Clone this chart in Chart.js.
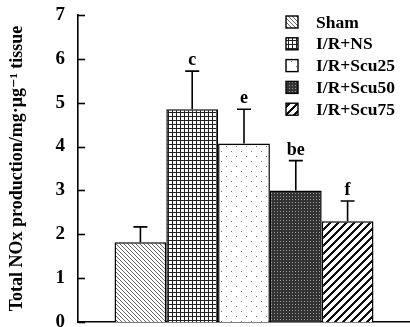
<!DOCTYPE html>
<html>
<head>
<meta charset="utf-8">
<script src="https://cdn.jsdelivr.net/npm/chart.js@4"></script>
<style>
  html, body { margin: 0; padding: 0; background: #fff; }
  #wrap { width: 410px; height: 327px; }
</style>
</head>
<body>
<div id="wrap"><canvas id="chart" width="410" height="327"></canvas></div>
<script>
// Data
const groups = ["Sham", "I/R+NS", "I/R+Scu25", "I/R+Scu50", "I/R+Scu75"];
const means = [1.82, 4.85, 4.07, 3.0, 2.3];
const errors = [0.35, 0.87, 0.78, 0.68, 0.46];
const letters = ["", "c", "e", "be", "f"];
const yMin = 0;
const yMax = 7;
const yStep = 1;

const serif = '"Liberation Serif", "DejaVu Serif", serif';

// Fill patterns
function makePattern(size, draw) {
  const c = document.createElement("canvas");
  c.width = size;
  c.height = size;
  const g = c.getContext("2d");
  g.fillStyle = "#fff";
  g.fillRect(0, 0, size, size);
  draw(g, size);
  return g.createPattern(c, "repeat");
}

const patterns = [
  // back diagonal fine lines
  makePattern(4, (g, s) => {
    g.fillStyle = "#666";
    for (let i = 0; i < s; i++) g.fillRect(i, i, 1, 1);
  }),
  // grid
  makePattern(4, (g, s) => {
    g.fillStyle = "#222";
    g.fillRect(0, 0, s, 1);
    g.fillRect(0, 0, 1, s);
  }),
  // sparse dots
  makePattern(10, (g) => {
    g.fillStyle = "#777";
    g.fillRect(1, 1, 1, 1);
    g.fillRect(6, 6, 1, 1);
  }),
  // dense dark dots
  makePattern(3, (g) => {
    g.fillStyle = "#333";
    g.fillRect(0, 0, 3, 3);
    g.fillStyle = "#999";
    g.fillRect(1, 1, 1, 1);
  }),
  // thick forward stripes
  makePattern(8, (g, s) => {
    g.fillStyle = "#111";
    for (let i = 0; i < s; i++) {
      for (let w = 0; w < 3; w++) {
        g.fillRect((s - 1 - i + w) % s, i, 1, 1);
      }
    }
  }),
];

// Error bars, letters, inner ticks and legend
const extras = {
  id: "extras",
  afterDatasetsDraw(chart) {
    const ctx = chart.ctx;
    const y = chart.scales.y;
    const area = chart.chartArea;
    ctx.save();
    ctx.strokeStyle = "#000";
    ctx.fillStyle = "#000";
    ctx.lineWidth = 1.6;

    chart.data.datasets.forEach((ds, i) => {
      const bar = chart.getDatasetMeta(i).data[0];
      const top = y.getPixelForValue(means[i] + errors[i]);
      ctx.beginPath();
      ctx.moveTo(bar.x, bar.y);
      ctx.lineTo(bar.x, top);
      ctx.moveTo(bar.x - 7, top);
      ctx.lineTo(bar.x + 7, top);
      ctx.stroke();
      if (letters[i]) {
        ctx.font = "bold 18px " + serif;
        ctx.textAlign = "center";
        ctx.textBaseline = "alphabetic";
        ctx.fillText(letters[i], bar.x, top - 6);
      }
    });

    // tick marks pointing into the plot
    for (let v = yMin; v <= yMax; v += yStep) {
      const py = Math.round(y.getPixelForValue(v)) + 0.5;
      ctx.beginPath();
      ctx.moveTo(area.left, py);
      ctx.lineTo(area.left + 7, py);
      ctx.stroke();
    }

    // legend
    ctx.font = "bold 17.5px " + serif;
    ctx.textAlign = "left";
    ctx.textBaseline = "middle";
    groups.forEach((name, i) => {
      const cy = 22 + i * 21.8;
      ctx.fillStyle = patterns[i];
      ctx.fillRect(286, cy - 6, 12, 12);
      ctx.lineWidth = 1.4;
      ctx.strokeRect(286, cy - 6, 12, 12);
      ctx.fillStyle = "#000";
      ctx.fillText(name, 316, cy + 1);
    });
    ctx.restore();
  },
};

const ctx = document.getElementById("chart").getContext("2d");
new Chart(ctx, {
  type: "bar",
  data: {
    labels: [""],
    datasets: groups.map((name, i) => ({
      label: name,
      data: [means[i]],
      backgroundColor: patterns[i],
      borderColor: "#000",
      borderWidth: 1.5,
      categoryPercentage: 0.78,
      barPercentage: 1,
    })),
  },
  options: {
    responsive: false,
    animation: false,
    layout: { padding: { top: 15, bottom: 5, left: 0, right: 0 } },
    plugins: {
      legend: { display: false },
      tooltip: { enabled: false },
    },
    scales: {
      x: {
        grid: { display: false },
        ticks: { display: false },
        border: { display: true, color: "#000", width: 1.6 },
        afterFit(scale) {
          scale.height = 0;
        },
      },
      y: {
        min: yMin,
        max: yMax,
        ticks: {
          stepSize: yStep,
          color: "#000",
          padding: 5,
          font: { family: serif, size: 19, weight: "bold" },
        },
        grid: { display: false },
        border: { display: true, color: "#000", width: 1.6 },
        title: {
          display: true,
          text: "Total NOx production/mg·μg⁻¹ tissue",
          color: "#000",
          font: { family: serif, size: 18, weight: "bold" },
          padding: { top: 7, bottom: 0 },
        },
        afterFit(scale) {
          scale.width = 78;
          scale.paddingTop = 0;
          scale.paddingBottom = 0;
        },
      },
    },
  },
  plugins: [extras],
});
</script>
</body>
</html>
